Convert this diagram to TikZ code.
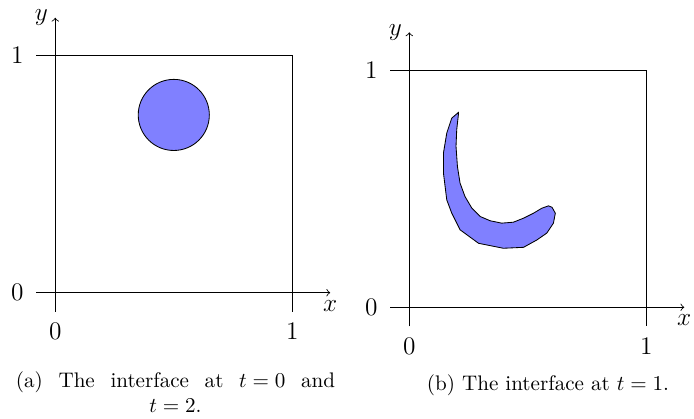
\documentclass[tikz,border=0pt]{standalone}
\usepackage{amsmath, amssymb}
\usepackage{tikz}

% caption paragraph: justified, last line centred
\newcommand{\subcaption}[1]{\parbox[t]{5.32cm}{\relpenalty=10000\thickmuskip=5mu\relax
  \leftskip=0pt plus 1fil\rightskip=0pt plus -1fil\parfillskip=0pt plus 2fil\relax #1}}

\begin{document}
\begin{tikzpicture}[font=\large,
    interface/.style={draw=black, fill=blue!50},
    subcap/.style={inner sep=0pt, font=\normalsize, anchor=north}]
  \useasboundingbox (0,0) rectangle (11.565,6.982);
  % (a) t = 0 and t = 2
  \begin{scope}[shift={(0.921cm,2.104cm)}, x=3.95cm, y=3.95cm]
    \draw[->] (-0.08,0) -- (1.16,0) node[below] (xa) {$x$};
    \draw[->] (0,-0.08) -- (0,1.16) node[left] (ya) {$y$};
    \draw (-0.08,1) -- (1,1) -- (1,-0.08);
    \foreach \t in {0,1} {
      \node (xta\t) at (\t,-0.165) {$\t$};
      \node (yta\t) at (-0.16,\t) {$\t$};
    }
    \draw[interface] (0.5,0.75) circle (0.15);
  \end{scope}
  % (b) t = 1
  \begin{scope}[shift={(6.821cm,1.861cm)}, x=3.95cm, y=3.95cm]
    \draw[->] (-0.08,0) -- (1.16,0) node[below] (xb) {$x$};
    \draw[->] (0,-0.08) -- (0,1.16) node[left] (yb) {$y$};
    \draw (-0.08,1) -- (1,1) -- (1,-0.08);
    \foreach \t in {0,1} {
      \node (xtb\t) at (\t,-0.165) {$\t$};
      \node (ytb\t) at (-0.16,\t) {$\t$};
    }
    \draw[interface] (0.207,0.822) -- (0.179,0.798) -- (0.158,0.735) -- (0.144,0.651)
      -- (0.144,0.566) -- (0.158,0.453) -- (0.179,0.397) -- (0.214,0.327)
      -- (0.292,0.270) -- (0.397,0.249) -- (0.482,0.253) -- (0.538,0.284)
      -- (0.580,0.313) -- (0.608,0.355) -- (0.616,0.397) -- (0.602,0.422)
      -- (0.587,0.428) -- (0.559,0.418) -- (0.524,0.397) -- (0.482,0.376)
      -- (0.439,0.359) -- (0.390,0.355) -- (0.341,0.365) -- (0.299,0.383)
      -- (0.264,0.418) -- (0.235,0.467) -- (0.214,0.524) -- (0.203,0.594)
      -- (0.197,0.679) -- (0.200,0.749) -- (0.207,0.812) -- cycle;
  \end{scope}
  % captions
  \node[subcap] (capa) at (2.925,0.80) {\subcaption{(a) The interface at $t = 0$ and $t = 2$.}};
  \node[subcap] (capb) at (9.132,0.747) {\subcaption{(b) The interface at $t = 1$.}};
\end{tikzpicture}
\end{document}
